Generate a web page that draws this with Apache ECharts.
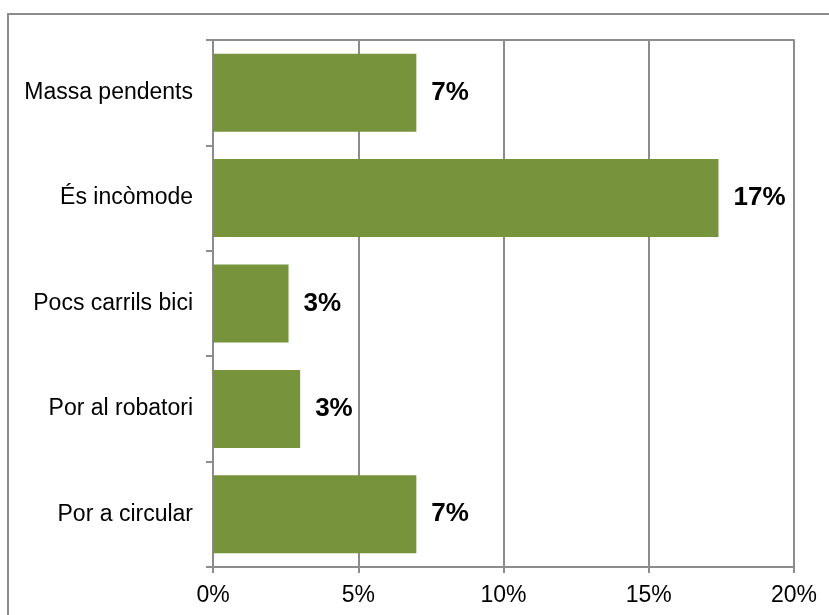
<!DOCTYPE html>
<html>
<head>
<meta charset="utf-8">
<script src="https://cdn.jsdelivr.net/npm/echarts@6/dist/echarts.min.js"></script>
<style>
html,body{margin:0;padding:0;background:#fff;}
#chart{width:829px;height:615px;}
</style>
</head>
<body>
<div id="chart"></div>
<script>
const categories = ["Massa pendents", "És incòmode", "Pocs carrils bici", "Por al robatori", "Por a circular"];
const values = [7.0, 17.4, 2.6, 3.0, 7.0];
const valueLabels = ["7%", "17%", "3%", "3%", "7%"];
const xTicks = [0, 5, 10, 15, 20];

const chart = echarts.init(document.getElementById('chart'));
const gray = '#8c8c8c';
const font = 'Liberation Sans, Arial, sans-serif';
chart.setOption({
  animation: false,
  backgroundColor: '#fff',
  graphic: [{
    type: 'rect',
    shape: {x: 8, y: 14, width: 900, height: 700},
    style: {fill: 'none', stroke: gray, lineWidth: 2},
    silent: true
  }],
  grid: {left: 213, right: 35, top: 40, bottom: 48, containLabel: false},
  xAxis: [{
    type: 'value',
    position: 'bottom',
    min: xTicks[0], max: xTicks[xTicks.length - 1], interval: 5,
    axisLine: {show: true, lineStyle: {color: gray, width: 2}},
    axisTick: {show: true, length: 6, lineStyle: {color: gray, width: 2}},
    splitLine: {show: true, lineStyle: {color: gray, width: 2}},
    axisLabel: {formatter: '{value}%', color: '#000', fontSize: 23, fontFamily: font, margin: 17}
  }, {
    type: 'value',
    position: 'top',
    min: 0, max: 20,
    axisLine: {show: true, lineStyle: {color: gray, width: 2}},
    axisTick: {show: false},
    axisLabel: {show: false},
    splitLine: {show: false}
  }],
  yAxis: {
    type: 'category',
    data: categories,
    inverse: true,
    axisLine: {show: true, lineStyle: {color: gray, width: 2}},
    axisTick: {show: true, length: 7, lineStyle: {color: gray, width: 2}},
    axisLabel: {color: '#000', fontSize: 23, fontFamily: font, margin: 20},
    splitLine: {show: false}
  },
  series: [{
    type: 'bar',
    data: values,
    barCategoryGap: '26%',
    itemStyle: {color: '#77933C'},
    label: {
      show: true,
      position: 'right',
      distance: 15,
      formatter: p => valueLabels[p.dataIndex],
      color: '#000',
      fontSize: 26,
      fontWeight: 'bold',
      fontFamily: font
    }
  }]
});
</script>
</body>
</html>
